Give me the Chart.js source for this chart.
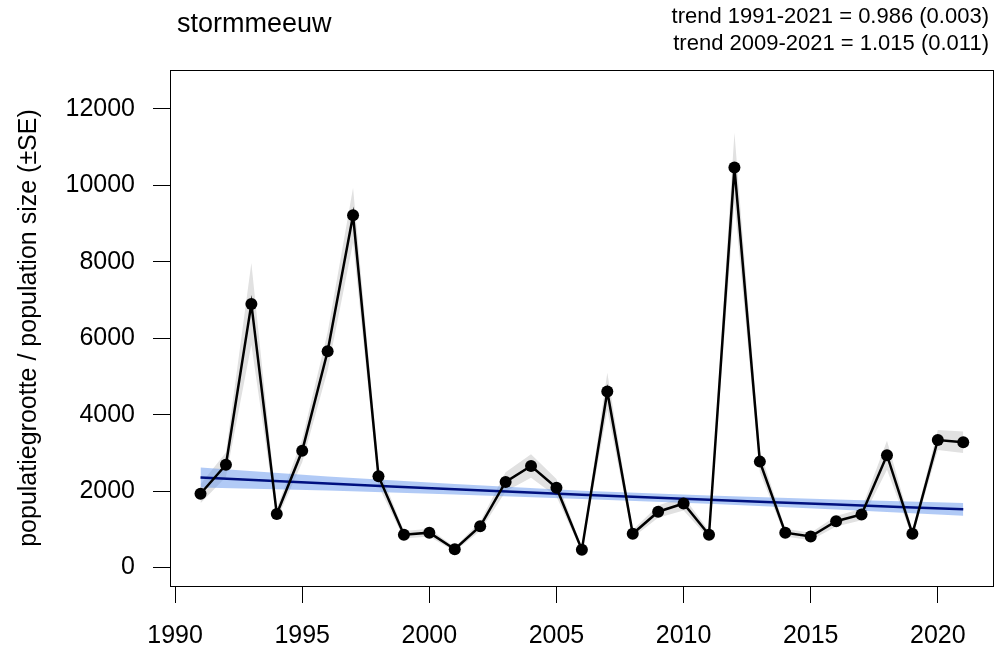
<!DOCTYPE html>
<html>
<head>
<meta charset="utf-8">
<script src="https://cdn.jsdelivr.net/npm/chart.js@4"></script>
<style>
  body { margin: 0; background: #fff; }
</style>
</head>
<body>
<canvas id="trendChart" width="994" height="652"></canvas>
<script>
const years = [1991, 1992, 1993, 1994, 1995, 1996, 1997, 1998, 1999, 2000,
               2001, 2002, 2003, 2004, 2005, 2006, 2007, 2008, 2009, 2010,
               2011, 2012, 2013, 2014, 2015, 2016, 2017, 2018, 2019, 2020, 2021];
const counts = [1932, 2691, 6898, 1401, 3055, 5657, 9217, 2390, 859, 914,
                479, 1081, 2241, 2657, 2089, 469, 4605, 885, 1461, 1675,
                859, 10466, 2772, 914, 814, 1212, 1390, 2940, 885, 3338, 3277];
const countsSE = [250, 320, 1070, 150, 300, 500, 720, 250, 100, 100,
                  60, 120, 250, 310, 230, 60, 490, 100, 160, 180,
                  100, 910, 280, 100, 100, 140, 150, 380, 100, 260, 280];

const trendYears = [1991, 1996, 2001, 2006, 2011, 2016, 2021];
const trend = [2356, 2200, 2050, 1905, 1775, 1650, 1524];
const trendSE = [262, 185, 135, 108, 108, 130, 165];

const xTicks = [1990, 1995, 2000, 2005, 2010, 2015, 2020];
const yTicks = [0, 2000, 4000, 6000, 8000, 10000, 12000];

const titleText = "stormmeeuw";
const trendLines = ["trend 1991-2021 = 0.986 (0.003)", "trend 2009-2021 = 1.015 (0.011)"];

const FONT = "'Liberation Sans', Arial, sans-serif";
Chart.defaults.font.family = FONT;
Chart.defaults.color = "#000";

const pts = (xs, ys) => xs.map((x, i) => ({ x, y: ys[i] }));
const band = () => ({ pointRadius: 0, borderWidth: 0, borderColor: "transparent", tension: 0 });
const noPad = s => { s.paddingLeft = 0; s.paddingRight = 0; s.paddingTop = 0; s.paddingBottom = 0; };

/* box round the plot + header texts */
const frame = {
    id: "frame",
    afterDraw(chart) {
        const { ctx, chartArea: a } = chart;
        ctx.save();
        ctx.strokeStyle = "#000";
        ctx.lineWidth = 1;
        ctx.strokeRect(Math.floor(a.left) + 0.5, Math.floor(a.top) + 0.5,
                       Math.round(a.right - a.left), Math.round(a.bottom - a.top));
        ctx.fillStyle = "#000";
        ctx.textBaseline = "alphabetic";
        ctx.font = "27px " + FONT;
        ctx.textAlign = "left";
        ctx.fillText(titleText, 177, 32);
        ctx.font = "22px " + FONT;
        ctx.textAlign = "right";
        ctx.fillText(trendLines[0], 989, 23);
        ctx.fillText(trendLines[1], 989, 50);
        ctx.restore();
    }
};

new Chart(trendChart, {
    type: "line",
    data: {
        datasets: [
            {   // index
                data: pts(years, counts),
                borderColor: "#000",
                borderWidth: 2.5,
                pointRadius: 6,
                pointBackgroundColor: "#000",
                pointBorderWidth: 0,
                tension: 0
            },
            {   // trend line
                data: pts(trendYears, trend),
                borderColor: "#00107f",
                borderWidth: 2.5,
                pointRadius: 0,
                tension: 0.3
            },
            {   ...band(), data: pts(trendYears, trend.map((v, i) => v - trendSE[i])) },
            {   ...band(), data: pts(trendYears, trend.map((v, i) => v + trendSE[i])),
                fill: "-1", backgroundColor: "rgba(100,149,237,0.5)" },
            {   ...band(), data: pts(years, counts.map((v, i) => v - countsSE[i])) },
            {   ...band(), data: pts(years, counts.map((v, i) => v + countsSE[i])),
                fill: "-1", backgroundColor: "#e1e1e1" }
        ]
    },
    options: {
        responsive: false,
        animation: false,
        devicePixelRatio: 1,
        layout: { autoPadding: false, padding: { top: 70, right: 1, left: 0, bottom: 0 } },
        plugins: { legend: { display: false }, tooltip: { enabled: false } },
        scales: {
            x: {
                type: "linear",
                min: 1989.8,
                max: 2022.17,
                afterBuildTicks: s => { s.ticks = xTicks.map(v => ({ value: v })); },
                afterFit: s => { s.height = 66; noPad(s); },
                border: { display: false },
                grid: { drawOnChartArea: false, tickLength: 17, color: "#000", lineWidth: 1 },
                ticks: { font: { size: 25 }, padding: 18, maxRotation: 0, autoSkip: false,
                         callback: v => String(v) }
            },
            y: {
                min: -482,
                max: 13018,
                afterBuildTicks: s => { s.ticks = yTicks.map(v => ({ value: v })); },
                afterFit: s => { s.width = 170; noPad(s); },
                border: { display: false },
                grid: { drawOnChartArea: false, tickLength: 17, color: "#000", lineWidth: 1 },
                ticks: { font: { size: 25 }, padding: 18, autoSkip: false,
                         callback: v => String(v) },
                title: {
                    display: true,
                    text: "populatiegrootte / population size (±SE)",
                    font: { size: 25 },
                    padding: { top: 14, bottom: 0 }
                }
            }
        }
    },
    plugins: [frame]
});
</script>
</body>
</html>
